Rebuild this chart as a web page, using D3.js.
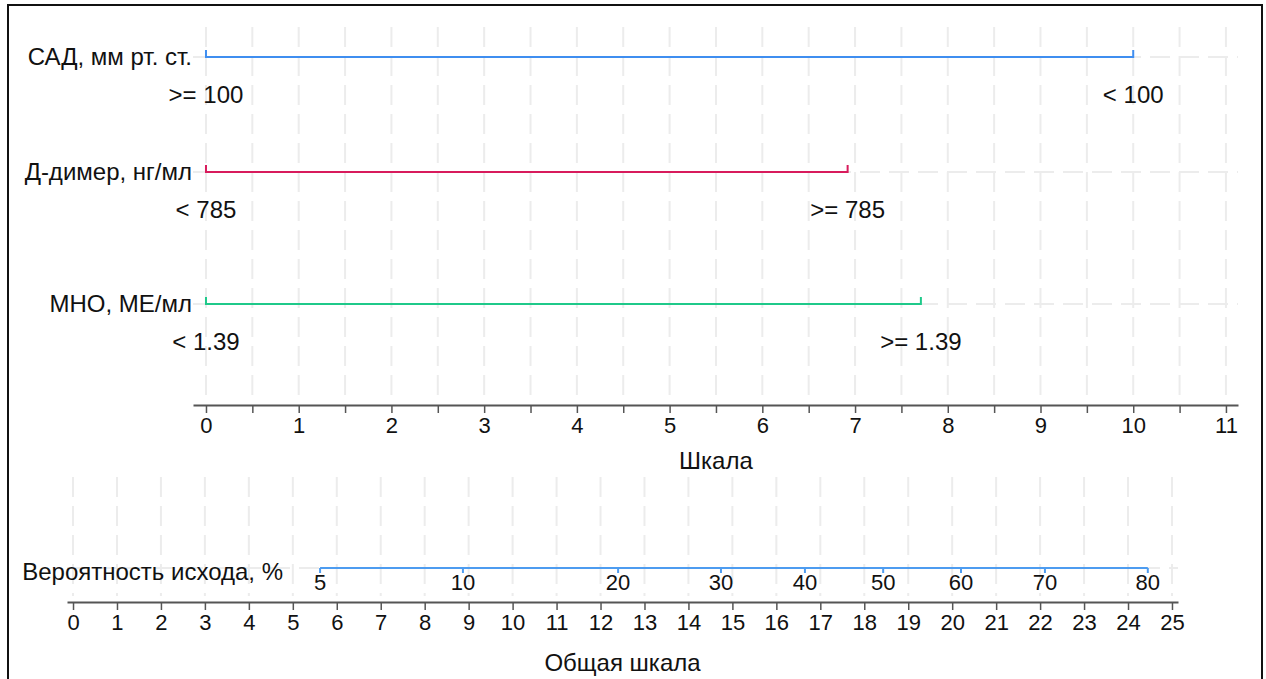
<!DOCTYPE html>
<html>
<head>
<meta charset="utf-8">
<script src="https://cdn.jsdelivr.net/npm/d3@7"></script>
<style>
  body { margin: 0; background: #fff; }
  svg text { font-family: "Liberation Sans", Arial, sans-serif; font-size: 24px; fill: #111; }
</style>
</head>
<body>
<svg width="1266" height="679"></svg>
<script>
// nomogram data
var variables = ["САД, мм рт. ст.", "Д-димер, нг/мл", "МНО, МЕ/мл"];
var levelLabels = [[">= 100", "< 100"], ["< 785", ">= 785"], ["< 1.39", ">= 1.39"]];
var levelPoints = [[0, 10], [0, 6.92], [0, 7.71]];
var colors = ["#3f8ef0", "#d81b5c", "#1fc98a"];

var scaleTicks = [0, 0.5, 1, 1.5, 2, 2.5, 3, 3.5, 4, 4.5, 5, 5.5, 6, 6.5, 7, 7.5, 8, 8.5, 9, 9.5, 10, 10.5, 11];
var totalTicks = [0, 1, 2, 3, 4, 5, 6, 7, 8, 9, 10, 11, 12, 13, 14, 15, 16, 17, 18, 19, 20, 21, 22, 23, 24, 25];

var probLabels = [5, 10, 20, 30, 40, 50, 60, 70, 80];
var probPoints = [5.62, 8.87, 12.40, 14.74, 16.65, 18.43, 20.20, 22.11, 24.45];

var svg = d3.select("svg");

// frame
svg.append("rect")
    .attr("x", 8).attr("y", 5)
    .attr("width", 1254).attr("height", 700)
    .attr("fill", "none")
    .attr("stroke", "#111")
    .attr("stroke-width", 2);

var x = d3.scaleLinear().domain([-0.14, 11.13]).range([193, 1238]);
var xTotal = d3.scaleLinear().domain([-0.137, 25.137]).range([67, 1178]);
// rows are not evenly spaced in the picture
var rowPos = { "САД, мм рт. ст.": 57, "Д-димер, нг/мл": 172, "МНО, МЕ/мл": 304 };
var probY = 568;

var grid = svg.append("g")
    .attr("stroke", "#ececec")
    .attr("stroke-width", 2)
    .attr("stroke-dasharray", "20,9");

// top grid
grid.selectAll(".vgrid")
    .data(scaleTicks)
    .enter().append("line")
    .attr("x1", function(d) { return x(d); })
    .attr("x2", function(d) { return x(d); })
    .attr("y1", 27).attr("y2", 398);

grid.selectAll(".hgrid")
    .data(variables)
    .enter().append("line")
    .attr("x1", x.range()[0]).attr("x2", x.range()[1])
    .attr("y1", function(d) { return rowPos[d]; })
    .attr("y2", function(d) { return rowPos[d]; });

// bottom grid
grid.selectAll(".vgrid2")
    .data(totalTicks)
    .enter().append("line")
    .attr("x1", function(d) { return xTotal(d); })
    .attr("x2", function(d) { return xTotal(d); })
    .attr("y1", 477).attr("y2", 596);

grid.append("line")
    .attr("x1", xTotal.range()[0]).attr("x2", xTotal.range()[1])
    .attr("y1", probY).attr("y2", probY);

// variable rows
var rows = svg.selectAll(".row")
    .data(variables)
    .enter().append("g")
    .attr("class", "row");

rows.append("text")
    .attr("x", 192)
    .attr("y", function(d) { return rowPos[d] + 8; })
    .attr("text-anchor", "end")
    .text(function(d) { return d; });

rows.each(function(d, i) {
    var g = d3.select(this),
        y = rowPos[d],
        pts = levelPoints[i];
    var p = d3.path();
    p.moveTo(x(pts[0]), y - 7);
    p.lineTo(x(pts[0]), y);
    p.lineTo(x(pts[pts.length - 1]), y);
    p.lineTo(x(pts[pts.length - 1]), y - 7);
    g.append("path")
        .attr("d", p.toString())
        .attr("fill", "none")
        .attr("stroke", colors[i])
        .attr("stroke-width", 2);

    g.selectAll(".lvl")
        .data(pts)
        .enter().append("text")
        .attr("x", function(v) { return x(v); })
        .attr("y", y + 46)
        .attr("text-anchor", "middle")
        .text(function(v, j) { return levelLabels[i][j]; });
});

// points axis
var axisTop = svg.append("g")
    .attr("transform", "translate(0,405)")
    .call(d3.axisBottom(x)
        .tickValues(scaleTicks)
        .tickSize(8)
        .tickSizeOuter(0)
        .tickPadding(4)
        .tickFormat(function(d) { return d % 1 === 0 ? d : ""; }));

axisTop.select(".domain").attr("stroke", "#555").attr("stroke-width", 2);
axisTop.selectAll(".tick line").attr("stroke", "#555").attr("stroke-width", 1.5);
axisTop.selectAll(".tick text")
    .attr("fill", "#111")
    .style("font-size", "22px")
    .style("font-family", "'Liberation Sans', Arial, sans-serif");

svg.append("text")
    .attr("x", x(5.5))
    .attr("y", 469)
    .attr("text-anchor", "middle")
    .text("Шкала");

// total points axis
var axisBottom = svg.append("g")
    .attr("transform", "translate(0,602)")
    .call(d3.axisBottom(xTotal)
        .tickValues(totalTicks)
        .tickSize(8)
        .tickSizeOuter(0)
        .tickPadding(4));

axisBottom.select(".domain").attr("stroke", "#555").attr("stroke-width", 2);
axisBottom.selectAll(".tick line").attr("stroke", "#555").attr("stroke-width", 1.5);
axisBottom.selectAll(".tick text")
    .attr("fill", "#111")
    .style("font-size", "22px")
    .style("font-family", "'Liberation Sans', Arial, sans-serif");

svg.append("text")
    .attr("x", xTotal(12.5))
    .attr("y", 671)
    .attr("text-anchor", "middle")
    .text("Общая шкала");

// probability row
svg.append("text")
    .attr("x", 283)
    .attr("y", 580)
    .attr("text-anchor", "end")
    .text("Вероятность исхода, %");

svg.append("line")
    .attr("x1", xTotal(probPoints[0]))
    .attr("x2", xTotal(probPoints[probPoints.length - 1]))
    .attr("y1", probY).attr("y2", probY)
    .attr("stroke", "#4d9cf0")
    .attr("stroke-width", 2);

svg.selectAll(".ptick")
    .data(probPoints)
    .enter().append("line")
    .attr("x1", function(d) { return xTotal(d); })
    .attr("x2", function(d) { return xTotal(d); })
    .attr("y1", probY).attr("y2", probY + 5)
    .attr("stroke", "#4d9cf0")
    .attr("stroke-width", 2);

svg.selectAll(".plabel")
    .data(probPoints)
    .enter().append("text")
    .attr("x", function(d) { return xTotal(d); })
    .attr("y", 590)
    .attr("text-anchor", "middle")
    .style("font-size", "22px")
    .text(function(d, i) { return probLabels[i]; });
</script>
</body>
</html>
